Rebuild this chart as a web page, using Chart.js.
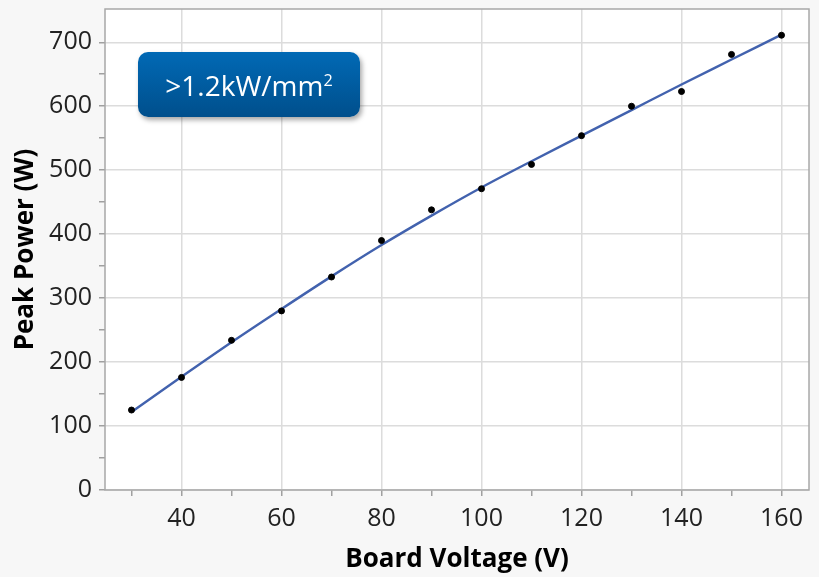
<!DOCTYPE html>
<html>
<head>
<meta charset="utf-8">
<script src="https://cdn.jsdelivr.net/npm/chart.js@4.4.0/dist/chart.umd.min.js"></script>
<style>
  html, body { margin: 0; padding: 0; background: #f7f7f7; }
  #wrap { position: relative; width: 819px; height: 577px; }
  #badge {
    position: absolute; left: 138px; top: 52px; width: 222px; height: 65px;
    border-radius: 10px;
    background: linear-gradient(#0169b5, #004f8c);
    box-shadow: 2px 3px 5px rgba(0, 0, 0, 0.35);
    color: #fff; font-family: "Open Sans", sans-serif; font-size: 28px;
    line-height: 66px; text-align: center;
  }
  #badge sup { font-size: 0.58em; line-height: 0; vertical-align: 0.62em; }
</style>
</head>
<body>
<div id="wrap">
  <canvas id="powerChart" width="819" height="577"></canvas>
  <div id="badge">&gt;1.2kW/mm<sup>2</sup></div>
</div>
<script>
const voltages = [30, 40, 50, 60, 70, 80, 90, 100, 110, 120, 130, 140, 150, 160];
const measuredPower = [125, 176, 234, 280, 333, 390, 438, 471, 509, 554, 600, 623, 681, 711];
const fittedPower = [122, 177, 231, 283, 334, 383, 429, 473, 514, 554, 594, 634, 673, 712];
const xTicks = [30, 40, 50, 60, 70, 80, 90, 100, 110, 120, 130, 140, 150, 160];
const yTicks = [0, 50, 100, 150, 200, 250, 300, 350, 400, 450, 500, 550, 600, 650, 700];

const toPoints = (xs, ys) => xs.map((x, i) => ({ x: x, y: ys[i] }));

const frame = {
  id: "frame",
  beforeDraw(chart) {
    const { ctx, chartArea: a } = chart;
    ctx.save();
    ctx.fillStyle = "#ffffff";
    ctx.fillRect(a.left, a.top, a.right - a.left, a.bottom - a.top);
    ctx.restore();
  },
  afterDatasetsDraw(chart) {
    const { ctx, chartArea: a } = chart;
    ctx.save();
    ctx.strokeStyle = "#a8a8a8";
    ctx.lineWidth = 1.5;
    ctx.strokeRect(a.left, a.top, a.right - a.left, a.bottom - a.top);
    ctx.restore();
  },
};

const tickFont = { family: "Open Sans", size: 25 };
const titleFont = { family: "Open Sans", size: 26, weight: "bold" };

const noPad = (scale) => {
  scale.paddingTop = 0;
  scale.paddingBottom = 0;
  scale.paddingLeft = 0;
  scale.paddingRight = 0;
};

new Chart(document.getElementById("powerChart"), {
  type: "scatter",
  data: {
    datasets: [
      {
        label: "Fit",
        data: toPoints(voltages, fittedPower),
        showLine: true,
        borderColor: "#4262ae",
        borderWidth: 2.4,
        pointRadius: 0,
        cubicInterpolationMode: "monotone",
        order: 2,
      },
      {
        label: "Peak Power",
        data: toPoints(voltages, measuredPower),
        backgroundColor: "#000000",
        borderColor: "#000000",
        pointRadius: 3,
        order: 1,
      },
    ],
  },
  options: {
    responsive: false,
    animation: false,
    layout: { padding: { top: 9, right: 10, left: 0, bottom: 0 } },
    plugins: { legend: { display: false }, tooltip: { enabled: false } },
    scales: {
      x: {
        min: 24.7,
        max: 165.5,
        afterBuildTicks: (scale) => { scale.ticks = xTicks.map((v) => ({ value: v })); },
        afterFit: (scale) => { scale.height = 87; noPad(scale); },
        border: { display: false },
        grid: {
          color: (c) => (c.tick && c.tick.value % 20 === 0 ? "#dcdcdc" : "rgba(0,0,0,0)"),
          tickColor: "#a0a0a0",
          tickLength: 6,
          lineWidth: 1.5,
        },
        ticks: {
          autoSkip: false,
          maxRotation: 0,
          color: "#222",
          font: tickFont,
          padding: 8,
          callback: (v) => (v % 20 === 0 ? v : ""),
        },
        title: {
          display: true,
          text: "Board Voltage (V)",
          color: "#000",
          font: titleFont,
          padding: { top: 0, bottom: 2 },
        },
      },
      y: {
        min: 0,
        max: 752,
        afterBuildTicks: (scale) => { scale.ticks = yTicks.map((v) => ({ value: v })); },
        afterFit: (scale) => { scale.width = 105; noPad(scale); },
        border: { display: false },
        grid: {
          color: (c) => (c.tick && c.tick.value % 100 === 0 ? "#dcdcdc" : "rgba(0,0,0,0)"),
          tickColor: "#a0a0a0",
          tickLength: 6,
          lineWidth: 1.5,
        },
        ticks: {
          autoSkip: false,
          color: "#222",
          font: tickFont,
          padding: 7,
          callback: (v) => (v % 100 === 0 ? v : ""),
        },
        title: {
          display: true,
          text: "Peak Power (W)",
          color: "#000",
          font: titleFont,
          padding: { top: 10, bottom: 0 },
        },
      },
    },
  },
  plugins: [frame],
});
</script>
</body>
</html>
